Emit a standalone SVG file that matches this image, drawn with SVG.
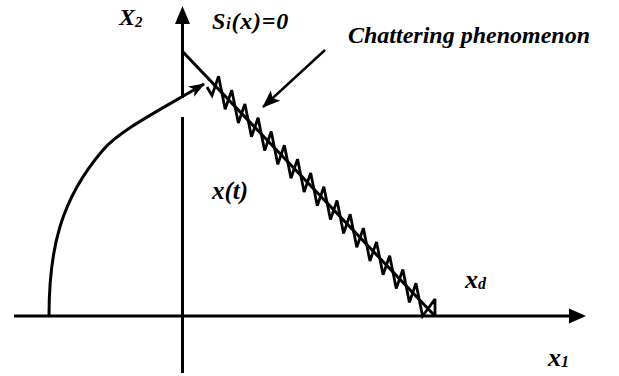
<svg xmlns="http://www.w3.org/2000/svg" width="619" height="376" viewBox="0 0 619 376">
<style>
.ln{fill:none;stroke:#000;stroke-width:3;stroke-linecap:butt}
.zz{fill:none;stroke:#000;stroke-width:2.8;stroke-linejoin:miter;stroke-miterlimit:3}
.hd{fill:#000;stroke:none}
.t{font-family:"Liberation Serif","Times New Roman","DejaVu Serif",serif;font-style:italic;font-weight:bold;fill:#000}
</style>
<defs>
<marker id="ah" viewBox="0 0 16 12" refX="15" refY="6" markerWidth="16" markerHeight="12" markerUnits="userSpaceOnUse" orient="auto">
<path d="M0,0 L16,6 L0,12 L4,6 Z" fill="#000"/>
</marker>
<marker id="ah2" viewBox="0 0 18 14" refX="17" refY="7" markerWidth="18" markerHeight="14" markerUnits="userSpaceOnUse" orient="auto">
<path d="M0,0 L18,7 L0,14 L4,7 Z" fill="#000"/>
</marker>
</defs>
<rect width="619" height="376" fill="#fff"/>
<g id="axes">
<line class="ln" x1="14" y1="316" x2="572" y2="316"/>
<polygon class="hd" points="586,316 569,308.5 569,323.5"/>
<line class="ln" x1="182.5" y1="373" x2="182.5" y2="117"/>
<line class="ln" x1="182.5" y1="98" x2="182.5" y2="20"/>
<polygon class="hd" points="182.5,6 175,24 190,24"/>
</g>
<g id="sliding-surface">
<line class="ln" x1="183" y1="52" x2="435" y2="316"/>
<path class="zz" d="M207,87 L212,95.4 l6.58,-19.1 6.58,32.9 6.58,-19.1 6.58,32.9 6.58,-19.1 6.58,32.9 6.58,-19.1 6.58,32.9 6.58,-19.1 6.58,32.9 6.58,-19.1 6.58,32.9 6.58,-19.1 6.58,32.9 6.58,-19.1 6.58,32.9 6.58,-19.1 6.58,32.9 6.58,-19.1 6.58,32.9 6.58,-19.1 6.58,32.9 6.58,-19.1 6.58,32.9 6.58,-19.1 6.58,32.9 6.58,-19.1 6.58,32.9 6.58,-19.1 6.58,32.9 6.58,-19.1 6.58,32.9 L435,299 V316"/>
</g>
<g id="connectors">
<path id="trajectory" class="ln" d="M49,316 C49,250 60,200 103,150 C120,130 160,110 204,84" marker-end="url(#ah)"/>
<line id="chattering-pointer" class="ln" x1="325" y1="50" x2="263" y2="107" style="stroke-width:2.4" marker-end="url(#ah2)"/>
</g>
<g id="labels">
<text class="t" x="119" y="25" font-size="24">X<tspan font-size="15" dy="2">2</tspan></text>
<text class="t" x="212" y="29" font-size="24" letter-spacing="0.8">S<tspan font-size="16">i</tspan>(x)=0</text>
<text class="t" x="348" y="43" font-size="24">Chattering phenomenon</text>
<text class="t" x="212" y="199" font-size="25">x(t)</text>
<text class="t" x="465" y="288" font-size="26">x<tspan font-size="16" dy="1">d</tspan></text>
<text class="t" x="548" y="366" font-size="26">x<tspan font-size="16" dy="1">1</tspan></text>
</g>
</svg>
